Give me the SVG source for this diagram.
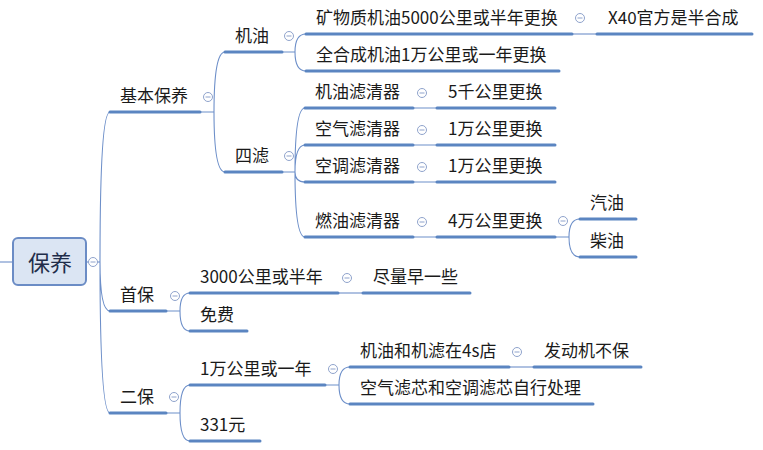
<svg xmlns="http://www.w3.org/2000/svg" width="763" height="450" viewBox="0 0 763 450">
<style>
text{font-family:"Noto Sans CJK SC","Microsoft YaHei",sans-serif;font-size:17px;fill:#1a1a1a}
.u{stroke:#5b85c1;stroke-width:3;stroke-linecap:round;fill:none}
.c{stroke:#6d8fc9;stroke-width:1.1;fill:none}
.t circle{fill:#fff;stroke:#8fa3cc;stroke-width:1}
.t line{stroke:#8fa3cc;stroke-width:1}
.root rect{fill:#dbe5f3;stroke:#6b8cc5;stroke-width:2}
.root text{font-size:22px;fill:#1f2d4a}
</style>
<defs>
<g id="tg" class="t"><circle r="4.5"/><line x1="-2.5" y1="0" x2="2.5" y2="0"/></g>
</defs>
<rect width="763" height="450" fill="#fff"/>
<g id="connectors">
<path class="c" d="M0 262H13"/>
<path class="c" d="M86 262H100"/>
<path class="c" d="M100 262Q100 112 110 112M100 262Q100 311 110 311M100 262Q100 413 110 413"/>
<path class="c" d="M200 112H214M214 112Q214 52 225 52M214 112Q214 172 225 172"/>
<path class="c" d="M282 52H295M295 52Q295 34 306 34M295 52Q295 71 306 71"/>
<path class="c" d="M572 34H597"/>
<path class="c" d="M282 172H295M295 172Q295 108 305 108M295 172Q295 145 305 145M295 172Q295 182 305 182M295 172Q295 237 305 237"/>
<path class="c" d="M413 108H437M413 145H437M413 182H437M413 237H437"/>
<path class="c" d="M555 237H569M569 237Q569 219 580 219M569 237Q569 257 580 257"/>
<path class="c" d="M166 311H180M180 311Q180 293 190 293M180 311Q180 331 190 331"/>
<path class="c" d="M338 293H363"/>
<path class="c" d="M166 413H180M180 413Q180 385 190 385M180 413Q180 441 190 441"/>
<path class="c" d="M325 385H339M339 385Q339 367 350 367M339 385Q339 404 350 404"/>
<path class="c" d="M509 367H534"/>
</g>
<g id="n0" class="root"><rect x="13" y="238" width="73" height="47" rx="5"/><text x="50" y="271" text-anchor="middle">保养</text><use href="#tg" x="93" y="262"/></g>
<g id="n1"><path class="u" d="M110 112H200"/><text x="120" y="102">基本保养</text><use href="#tg" x="208" y="97"/></g>
<g id="n11"><path class="u" d="M225 52H282"/><text x="235" y="42">机油</text><use href="#tg" x="289" y="36"/></g>
<g id="n111"><path class="u" d="M306 34H572"/><text x="316" y="24">矿物质机油5000公里或半年更换</text><use href="#tg" x="580" y="18"/></g>
<g id="n1111"><path class="u" d="M597 34H752"/><text x="608" y="24">X40官方是半合成</text></g>
<g id="n112"><path class="u" d="M306 71H559"/><text x="316" y="61">全合成机油1万公里或一年更换</text></g>
<g id="n12"><path class="u" d="M225 172H282"/><text x="235" y="162">四滤</text><use href="#tg" x="289" y="156"/></g>
<g id="n121"><path class="u" d="M305 108H413"/><text x="315" y="98">机油滤清器</text><use href="#tg" x="422" y="93"/></g>
<g id="n1211"><path class="u" d="M437 108H555"/><text x="448" y="98">5千公里更换</text></g>
<g id="n122"><path class="u" d="M305 145H413"/><text x="315" y="135">空气滤清器</text><use href="#tg" x="422" y="130"/></g>
<g id="n1221"><path class="u" d="M437 145H555"/><text x="448" y="135">1万公里更换</text></g>
<g id="n123"><path class="u" d="M305 182H413"/><text x="315" y="172">空调滤清器</text><use href="#tg" x="422" y="167"/></g>
<g id="n1231"><path class="u" d="M437 182H555"/><text x="448" y="172">1万公里更换</text></g>
<g id="n124"><path class="u" d="M305 237H413"/><text x="315" y="227">燃油滤清器</text><use href="#tg" x="422" y="222"/></g>
<g id="n1241"><path class="u" d="M437 237H555"/><text x="448" y="227">4万公里更换</text><use href="#tg" x="563" y="221"/></g>
<g id="n12411"><path class="u" d="M580 219H636"/><text x="590" y="209">汽油</text></g>
<g id="n12412"><path class="u" d="M580 257H636"/><text x="590" y="247">柴油</text></g>
<g id="n2"><path class="u" d="M110 311H166"/><text x="120" y="301">首保</text><use href="#tg" x="175" y="296"/></g>
<g id="n21"><path class="u" d="M190 293H338"/><text x="200" y="283">3000公里或半年</text><use href="#tg" x="347" y="278"/></g>
<g id="n211"><path class="u" d="M363 293H470"/><text x="373" y="283">尽量早一些</text></g>
<g id="n22"><path class="u" d="M190 331H247"/><text x="200" y="321">免费</text></g>
<g id="n3"><path class="u" d="M110 413H166"/><text x="120" y="403">二保</text><use href="#tg" x="174" y="397"/></g>
<g id="n31"><path class="u" d="M190 385H325"/><text x="200" y="375">1万公里或一年</text><use href="#tg" x="333" y="369"/></g>
<g id="n311"><path class="u" d="M350 367H509"/><text x="360" y="357">机油和机滤在4s店</text><use href="#tg" x="517" y="352"/></g>
<g id="n3111"><path class="u" d="M534 367H641"/><text x="544" y="357">发动机不保</text></g>
<g id="n312"><path class="u" d="M350 404H593"/><text x="360" y="394">空气滤芯和空调滤芯自行处理</text></g>
<g id="n32"><path class="u" d="M190 441H260"/><text x="200" y="431">331元</text></g>
</svg>
